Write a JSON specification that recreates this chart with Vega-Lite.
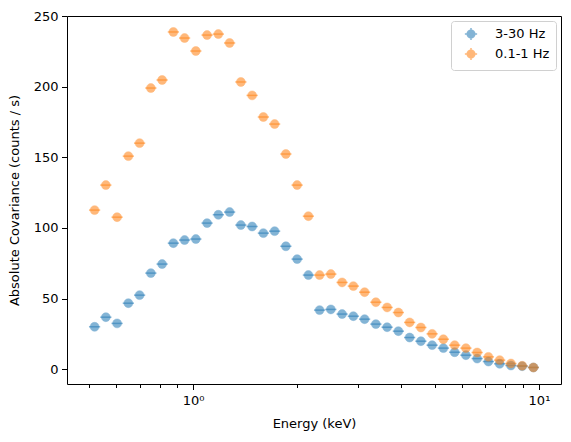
{
  "$schema": "https://vega.github.io/schema/vega-lite/v6.json",
  "autosize": {"type": "none"},
  "padding": {"left": 67, "top": 16, "right": 10, "bottom": 58},
  "width": 494,
  "height": 368,
  "config": {
    "font": "DejaVu Sans",
    "view": {"stroke": "black", "strokeWidth": 1},
    "axis": {
      "grid": false,
      "domain": false,
      "tickColor": "black",
      "labelColor": "black",
      "titleColor": "black",
      "labelFontSize": 13,
      "titleFontSize": 13,
      "titleFontWeight": "normal"
    },
    "legend": {
      "orient": "top-right",
      "offset": 5,
      "padding": 6,
      "strokeColor": "#d0d0d0",
      "fillColor": "white",
      "cornerRadius": 3,
      "labelFontSize": 13,
      "labelColor": "black",
      "symbolSize": 150,
      "symbolOpacity": 0.55,
      "symbolStrokeWidth": 1.5,
      "symbolOffset": 7,
      "rowPadding": 0,
      "labelOffset": 17
    }
  },
  "data": {
    "values": [
      {"band": "3-30 Hz", "E": 0.5191, "lo": 0.5, "hi": 0.5389, "cov": 30.0},
      {"band": "3-30 Hz", "E": 0.5595, "lo": 0.5389, "hi": 0.5808, "cov": 36.8},
      {"band": "3-30 Hz", "E": 0.6030, "lo": 0.5808, "hi": 0.6260, "cov": 32.4},
      {"band": "3-30 Hz", "E": 0.6499, "lo": 0.6260, "hi": 0.6747, "cov": 46.7},
      {"band": "3-30 Hz", "E": 0.7004, "lo": 0.6747, "hi": 0.7272, "cov": 52.4},
      {"band": "3-30 Hz", "E": 0.7550, "lo": 0.7272, "hi": 0.7838, "cov": 68.0},
      {"band": "3-30 Hz", "E": 0.8137, "lo": 0.7838, "hi": 0.8448, "cov": 74.4},
      {"band": "3-30 Hz", "E": 0.8770, "lo": 0.8448, "hi": 0.9103, "cov": 89.2},
      {"band": "3-30 Hz", "E": 0.9450, "lo": 0.9103, "hi": 0.9811, "cov": 91.4},
      {"band": "3-30 Hz", "E": 1.0185, "lo": 0.9811, "hi": 1.0574, "cov": 92.1},
      {"band": "3-30 Hz", "E": 1.0977, "lo": 1.0574, "hi": 1.1397, "cov": 103.4},
      {"band": "3-30 Hz", "E": 1.1832, "lo": 1.1397, "hi": 1.2284, "cov": 109.3},
      {"band": "3-30 Hz", "E": 1.2753, "lo": 1.2284, "hi": 1.3240, "cov": 111.2},
      {"band": "3-30 Hz", "E": 1.3745, "lo": 1.3240, "hi": 1.4270, "cov": 102.0},
      {"band": "3-30 Hz", "E": 1.4815, "lo": 1.4270, "hi": 1.5380, "cov": 101.0},
      {"band": "3-30 Hz", "E": 1.5967, "lo": 1.5380, "hi": 1.6577, "cov": 96.3},
      {"band": "3-30 Hz", "E": 1.7210, "lo": 1.6577, "hi": 1.7866, "cov": 97.7},
      {"band": "3-30 Hz", "E": 1.8548, "lo": 1.7866, "hi": 1.9256, "cov": 87.0},
      {"band": "3-30 Hz", "E": 1.9991, "lo": 1.9256, "hi": 2.0755, "cov": 77.9},
      {"band": "3-30 Hz", "E": 2.1547, "lo": 2.0755, "hi": 2.2361, "cov": 66.6},
      {"band": "3-30 Hz", "E": 2.3214, "lo": 2.2361, "hi": 2.4101, "cov": 41.8},
      {"band": "3-30 Hz", "E": 2.5021, "lo": 2.4101, "hi": 2.5976, "cov": 42.3},
      {"band": "3-30 Hz", "E": 2.6967, "lo": 2.5976, "hi": 2.7997, "cov": 39.0},
      {"band": "3-30 Hz", "E": 2.9065, "lo": 2.7997, "hi": 3.0175, "cov": 37.5},
      {"band": "3-30 Hz", "E": 3.1326, "lo": 3.0175, "hi": 3.2523, "cov": 35.4},
      {"band": "3-30 Hz", "E": 3.3764, "lo": 3.2523, "hi": 3.5054, "cov": 31.9},
      {"band": "3-30 Hz", "E": 3.6392, "lo": 3.5054, "hi": 3.7781, "cov": 29.7},
      {"band": "3-30 Hz", "E": 3.9223, "lo": 3.7781, "hi": 4.0720, "cov": 26.9},
      {"band": "3-30 Hz", "E": 4.2274, "lo": 4.0720, "hi": 4.3889, "cov": 22.4},
      {"band": "3-30 Hz", "E": 4.5564, "lo": 4.3889, "hi": 4.7302, "cov": 19.8},
      {"band": "3-30 Hz", "E": 4.9107, "lo": 4.7302, "hi": 5.0982, "cov": 17.0},
      {"band": "3-30 Hz", "E": 5.2928, "lo": 5.0982, "hi": 5.4950, "cov": 14.9},
      {"band": "3-30 Hz", "E": 5.7047, "lo": 5.4950, "hi": 5.9225, "cov": 12.0},
      {"band": "3-30 Hz", "E": 6.1485, "lo": 5.9225, "hi": 6.3833, "cov": 9.9},
      {"band": "3-30 Hz", "E": 6.6269, "lo": 6.3833, "hi": 6.8800, "cov": 7.5},
      {"band": "3-30 Hz", "E": 7.1425, "lo": 6.8800, "hi": 7.4152, "cov": 5.4},
      {"band": "3-30 Hz", "E": 7.6982, "lo": 7.4152, "hi": 7.9922, "cov": 3.8},
      {"band": "3-30 Hz", "E": 8.2972, "lo": 7.9922, "hi": 8.6140, "cov": 2.6},
      {"band": "3-30 Hz", "E": 8.9427, "lo": 8.6140, "hi": 9.2843, "cov": 2.1},
      {"band": "3-30 Hz", "E": 9.6386, "lo": 9.2843, "hi": 10.0, "cov": 1.2},
      {"band": "0.1-1 Hz", "E": 0.5191, "lo": 0.5, "hi": 0.5389, "cov": 112.6},
      {"band": "0.1-1 Hz", "E": 0.5595, "lo": 0.5389, "hi": 0.5808, "cov": 130.3},
      {"band": "0.1-1 Hz", "E": 0.6030, "lo": 0.5808, "hi": 0.6260, "cov": 107.6},
      {"band": "0.1-1 Hz", "E": 0.6499, "lo": 0.6260, "hi": 0.6747, "cov": 150.8},
      {"band": "0.1-1 Hz", "E": 0.7004, "lo": 0.6747, "hi": 0.7272, "cov": 160.0},
      {"band": "0.1-1 Hz", "E": 0.7550, "lo": 0.7272, "hi": 0.7838, "cov": 199.0},
      {"band": "0.1-1 Hz", "E": 0.8137, "lo": 0.7838, "hi": 0.8448, "cov": 204.7},
      {"band": "0.1-1 Hz", "E": 0.8770, "lo": 0.8448, "hi": 0.9103, "cov": 238.7},
      {"band": "0.1-1 Hz", "E": 0.9450, "lo": 0.9103, "hi": 0.9811, "cov": 234.4},
      {"band": "0.1-1 Hz", "E": 1.0185, "lo": 0.9811, "hi": 1.0574, "cov": 225.2},
      {"band": "0.1-1 Hz", "E": 1.0977, "lo": 1.0574, "hi": 1.1397, "cov": 236.5},
      {"band": "0.1-1 Hz", "E": 1.1832, "lo": 1.1397, "hi": 1.2284, "cov": 237.2},
      {"band": "0.1-1 Hz", "E": 1.2753, "lo": 1.2284, "hi": 1.3240, "cov": 230.9},
      {"band": "0.1-1 Hz", "E": 1.3745, "lo": 1.3240, "hi": 1.4270, "cov": 203.3},
      {"band": "0.1-1 Hz", "E": 1.4815, "lo": 1.4270, "hi": 1.5380, "cov": 193.8},
      {"band": "0.1-1 Hz", "E": 1.5967, "lo": 1.5380, "hi": 1.6577, "cov": 178.5},
      {"band": "0.1-1 Hz", "E": 1.7210, "lo": 1.6577, "hi": 1.7866, "cov": 173.5},
      {"band": "0.1-1 Hz", "E": 1.8548, "lo": 1.7866, "hi": 1.9256, "cov": 152.3},
      {"band": "0.1-1 Hz", "E": 1.9991, "lo": 1.9256, "hi": 2.0755, "cov": 130.3},
      {"band": "0.1-1 Hz", "E": 2.1547, "lo": 2.0755, "hi": 2.2361, "cov": 108.3},
      {"band": "0.1-1 Hz", "E": 2.3214, "lo": 2.2361, "hi": 2.4101, "cov": 66.6},
      {"band": "0.1-1 Hz", "E": 2.5021, "lo": 2.4101, "hi": 2.5976, "cov": 67.3},
      {"band": "0.1-1 Hz", "E": 2.6967, "lo": 2.5976, "hi": 2.7997, "cov": 61.4},
      {"band": "0.1-1 Hz", "E": 2.9065, "lo": 2.7997, "hi": 3.0175, "cov": 58.8},
      {"band": "0.1-1 Hz", "E": 3.1326, "lo": 3.0175, "hi": 3.2523, "cov": 54.5},
      {"band": "0.1-1 Hz", "E": 3.3764, "lo": 3.2523, "hi": 3.5054, "cov": 47.4},
      {"band": "0.1-1 Hz", "E": 3.6392, "lo": 3.5054, "hi": 3.7781, "cov": 43.7},
      {"band": "0.1-1 Hz", "E": 3.9223, "lo": 3.7781, "hi": 4.0720, "cov": 40.1},
      {"band": "0.1-1 Hz", "E": 4.2274, "lo": 4.0720, "hi": 4.3889, "cov": 33.1},
      {"band": "0.1-1 Hz", "E": 4.5564, "lo": 4.3889, "hi": 4.7302, "cov": 29.5},
      {"band": "0.1-1 Hz", "E": 4.9107, "lo": 4.7302, "hi": 5.0982, "cov": 25.0},
      {"band": "0.1-1 Hz", "E": 5.2928, "lo": 5.0982, "hi": 5.4950, "cov": 21.2},
      {"band": "0.1-1 Hz", "E": 5.7047, "lo": 5.4950, "hi": 5.9225, "cov": 17.0},
      {"band": "0.1-1 Hz", "E": 6.1485, "lo": 5.9225, "hi": 6.3833, "cov": 14.9},
      {"band": "0.1-1 Hz", "E": 6.6269, "lo": 6.3833, "hi": 6.8800, "cov": 11.8},
      {"band": "0.1-1 Hz", "E": 7.1425, "lo": 6.8800, "hi": 7.4152, "cov": 8.7},
      {"band": "0.1-1 Hz", "E": 7.6982, "lo": 7.4152, "hi": 7.9922, "cov": 6.4},
      {"band": "0.1-1 Hz", "E": 8.2972, "lo": 7.9922, "hi": 8.6140, "cov": 4.0},
      {"band": "0.1-1 Hz", "E": 8.9427, "lo": 8.6140, "hi": 9.2843, "cov": 2.4},
      {"band": "0.1-1 Hz", "E": 9.6386, "lo": 9.2843, "hi": 10.0, "cov": 1.2}
    ]
  },
  "encoding": {
    "y": {
      "field": "cov",
      "type": "quantitative",
      "title": "Absolute Covariance (counts / s)",
      "scale": {"domain": [-10.5, 250], "nice": false, "zero": false},
      "axis": {"values": [0, 50, 100, 150, 200, 250], "tickSize": 5.5, "labelPadding": 3.5, "titlePadding": 12}
    },
    "color": {
      "field": "band",
      "type": "nominal",
      "scale": {"domain": ["3-30 Hz", "0.1-1 Hz"], "range": ["#1f77b4", "#ff7f0e"]},
      "legend": {
        "title": null,
        "symbolType": "M-1,0H1M0,-1V1M-0.62,0A0.62,0.62 0 1 1 0.62,0A0.62,0.62 0 1 1 -0.62,0Z"
      }
    },
    "stroke": {
      "field": "band",
      "type": "nominal",
      "scale": {"domain": ["3-30 Hz", "0.1-1 Hz"], "range": ["#1f77b4", "#ff7f0e"]},
      "legend": {
        "title": null,
        "symbolType": "M-1,0H1M0,-1V1M-0.62,0A0.62,0.62 0 1 1 0.62,0A0.62,0.62 0 1 1 -0.62,0Z"
      }
    }
  },
  "layer": [
    {
      "mark": {"type": "rule", "strokeWidth": 1.5, "opacity": 0.5},
      "encoding": {
        "x": {
          "field": "lo",
          "type": "quantitative",
          "title": "Energy (keV)",
          "scale": {"type": "log", "domain": [0.432, 11.58], "nice": false},
          "axis": {
            "values": [0.5, 0.6, 0.7, 0.8, 0.9, 1, 2, 3, 4, 5, 6, 7, 8, 9, 10],
            "labelExpr": "datum.value == 1 ? '10⁰' : (datum.value == 10 ? '10¹' : '')",
            "tickSize": {"condition": {"test": "datum.value == 1 || datum.value == 10", "value": 5.5}, "value": 3.5},
            "labelPadding": 5,
            "titlePadding": 10
          }
        },
        "x2": {"field": "hi"}
      }
    },
    {
      "mark": {"type": "point", "filled": true, "shape": "circle", "size": 80, "opacity": 0.55, "strokeWidth": 0.5},
      "encoding": {
        "x": {"field": "E", "type": "quantitative"}
      }
    }
  ]
}
